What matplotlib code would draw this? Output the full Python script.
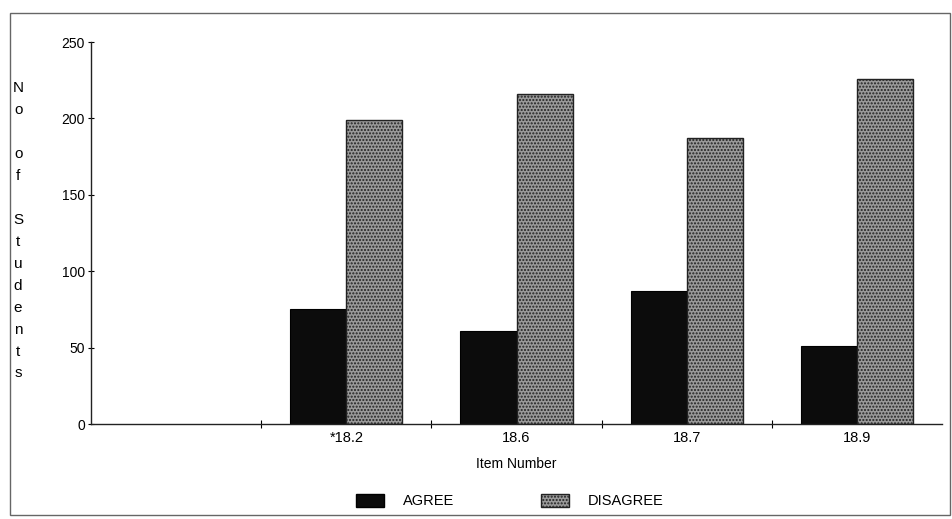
import numpy as np
import matplotlib.pyplot as plt
from matplotlib.patches import Rectangle, Patch

plt.rcParams['font.family'] = ['Liberation Sans', 'DejaVu Sans']

# dane z wykresu
items = ['', '*18.2', '18.6', '18.7', '18.9']   # pierwsza kolumna pusta
agree = [75, 61, 87, 51]
disagree = [199, 216, 187, 226]
y_ticks = [0, 50, 100, 150, 200, 250]

fig = plt.figure(figsize=(9.53, 5.19), dpi=100)
ax = fig.add_axes([0.0955, 0.183, 0.893, 0.736])

pos = np.arange(1, len(items)) + 0.5
w = 0.33
ax.bar(pos - w/2, agree, w, color='#0c0c0c', edgecolor='black', linewidth=0.8)
ax.bar(pos + w/2, disagree, w, color='#9a9a9a', edgecolor='#222222',
       linewidth=1.0, hatch='.....')

ax.set_xlim(0, len(items))
ax.set_ylim(0, 250)

# etykiety na środku kolumn, kreski na granicach
ax.set_xticks(np.arange(len(items)) + 0.5)
ax.set_xticklabels(items, fontsize=10.5)
ax.tick_params(axis='x', length=0, pad=5)
ax.set_xticks(np.arange(1, len(items)), minor=True)
ax.tick_params(axis='x', which='minor', direction='inout', length=6, width=0.8)

ax.set_yticks(y_ticks)
ax.set_yticklabels([str(t) for t in y_ticks], fontsize=10)
ax.tick_params(axis='y', direction='inout', length=5, width=0.8, pad=2)

for s in ['top', 'right']:
    ax.spines[s].set_visible(False)
for s in ['left', 'bottom']:
    ax.spines[s].set_linewidth(1.0)
    ax.spines[s].set_color('#222222')

ax.set_xlabel('Item Number', fontsize=10, labelpad=9)

# pionowy opis osi y - litera pod literą
ylab = '\n'.join(list('No')) + '\n\n' + '\n'.join(list('of')) + '\n\n' + '\n'.join(list('Students'))
fig.text(0.019, 0.555, ylab, fontsize=11, ha='center', va='center', linespacing=1.72)

handles = [Patch(facecolor='#0c0c0c', edgecolor='black'),
           Patch(facecolor='#9a9a9a', edgecolor='#222222', hatch='.....')]
fig.legend(handles, ['AGREE', 'DISAGREE'], loc='center', bbox_to_anchor=(0.535, 0.035),
           ncol=2, frameon=False, fontsize=10.5, handlelength=1.9, handleheight=1.0,
           columnspacing=6.0, handletextpad=1.3)

# ramka wokół całego rysunku
fig.add_artist(Rectangle((0.011, 0.008), 0.986, 0.966, transform=fig.transFigure,
                         fill=False, edgecolor='#666666', linewidth=1.0))

fig.savefig('out.png', dpi=100)
